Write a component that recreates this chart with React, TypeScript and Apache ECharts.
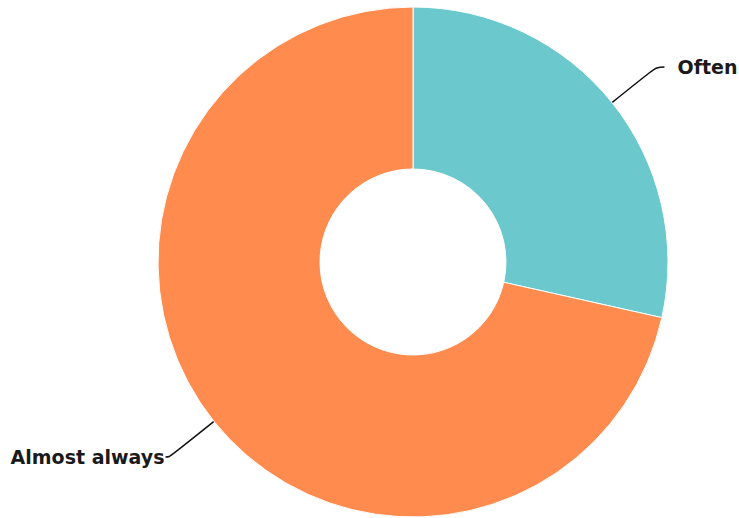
import React, { useEffect, useRef } from "react";
import * as echarts from "echarts";

const categories = ["Often", "Almost always"];
const values = [28.5, 71.5];
const colors = ["#6BC8CD", "#FF8B4F"];
const labelGaps = [13, 1];
const lineTails = [8, 4];

export default function App() {
  const ref = useRef<HTMLDivElement>(null);
  useEffect(() => {
    if (!ref.current) return;
    const chart = echarts.init(ref.current, undefined, { renderer: "svg" });
    chart.setOption({
      animation: false,
      series: [
        {
          type: "pie",
          center: [413, 262],
          radius: [93, 255],
          startAngle: 90,
          clockwise: true,
          avoidLabelOverlap: false,
          itemStyle: { borderColor: "#ffffff", borderWidth: 1 },
          label: {
            show: true,
            position: "outside",
            color: "#1a1a1a",
            fontFamily: "DejaVu Sans",
            fontWeight: "bold",
            fontSize: 19,
          },
          labelLine: {
            show: true,
            length: 57,
            length2: 8,
            smooth: 0.4,
            lineStyle: { color: "#111", width: 1.5 },
          },
          data: categories.map((c, i) => ({
            name: c,
            value: values[i],
            itemStyle: { color: colors[i] },
            label: { distanceToLabelLine: labelGaps[i] },
            labelLine: { length2: lineTails[i] },
          })),
        },
      ],
    });
    return () => chart.dispose();
  }, []);
  return (
    <div
      ref={ref}
      style={{ position: "absolute", left: 0, top: 0, width: 739, height: 518 }}
    />
  );
}
